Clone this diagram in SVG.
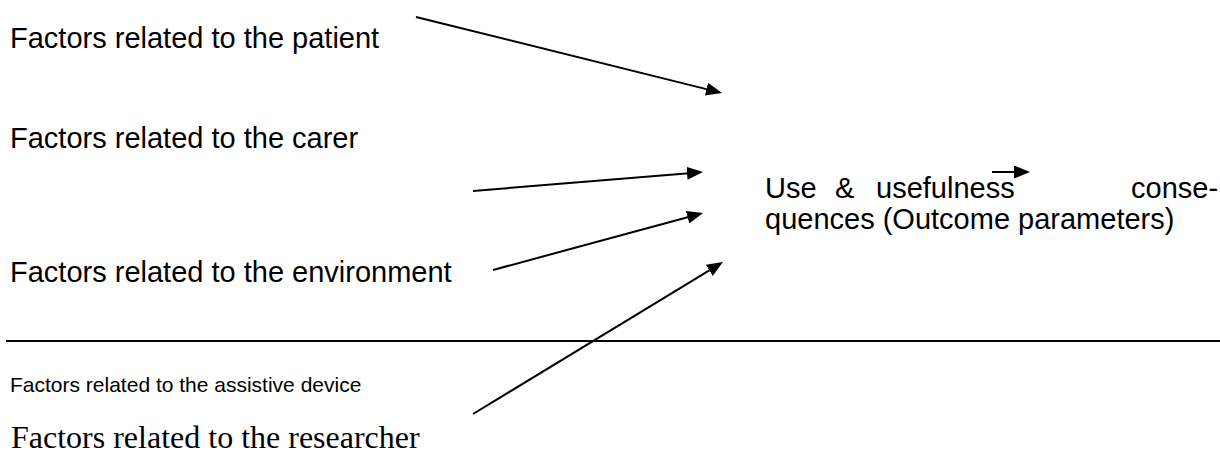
<svg xmlns="http://www.w3.org/2000/svg" width="1220" height="454" viewBox="0 0 1220 454">
  <style>
    .sans { font-family: "Liberation Sans", Arial, sans-serif; fill: #000; }
    .big { font-size: 29px; }
    .small { font-size: 21px; }
    .serif { font-family: "Liberation Serif", "Times New Roman", serif; font-size: 32px; fill: #000; }
    .conn { stroke: #000; stroke-width: 2; fill: none; marker-end: url(#arrow); }
    .rule { stroke: #000; stroke-width: 2; fill: none; }
  </style>
  <defs>
    <marker id="arrow" markerUnits="userSpaceOnUse" viewBox="0 0 16 13" markerWidth="16" markerHeight="13" refX="2" refY="6.5" orient="auto">
      <path d="M0,0 L16,6.5 L0,13 z" fill="#000"/>
    </marker>
  </defs>
  <rect width="1220" height="454" fill="#fff"/>

  <g id="node-patient">
    <text class="sans big" x="10" y="48">Factors related to the patient</text>
  </g>
  <g id="node-carer">
    <text class="sans big" x="10" y="148">Factors related to the carer</text>
  </g>
  <g id="node-environment">
    <text class="sans big" x="10" y="282">Factors related to the environment</text>
  </g>
  <g id="node-device">
    <text class="sans small" x="10" y="392">Factors related to the assistive device</text>
  </g>
  <g id="node-researcher">
    <text class="serif" x="11" y="448">Factors related to the researcher</text>
  </g>
  <g id="node-outcome">
    <text class="sans big" y="198"><tspan x="765">Use</tspan><tspan x="835">&amp;</tspan><tspan x="876">usefulness</tspan><tspan x="1131">conse-</tspan></text>
    <text class="sans big" x="765" y="229">quences (Outcome parameters)</text>
  </g>

  <line id="divider" class="rule" x1="6" y1="341" x2="1220" y2="341"/>

  <g id="connectors">
    <line class="conn" x1="416" y1="17" x2="708.4" y2="89.6"/>
    <line class="conn" x1="473" y1="191" x2="689" y2="173.2"/>
    <line class="conn" x1="493" y1="270" x2="689.5" y2="216.7"/>
    <line class="conn" x1="473" y1="414" x2="711" y2="269.3"/>
    <line class="conn" x1="992" y1="172" x2="1016" y2="172"/>
  </g>
</svg>
